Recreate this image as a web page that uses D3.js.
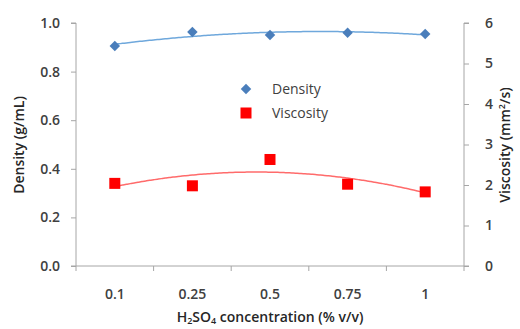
<!DOCTYPE html>
<html>
<head>
<meta charset="utf-8">
<script src="https://cdn.jsdelivr.net/npm/d3@7"></script>
<style>
  body { margin: 0; background: #fff; }
  text { font-family: "Open Sans", Lato, sans-serif; }
</style>
</head>
<body>
<svg id="chart" width="520" height="329"></svg>
<script>
const categories = ["0.1", "0.25", "0.5", "0.75", "1"];
const density = [0.905, 0.963, 0.951, 0.960, 0.955];
const viscosity = [2.04, 1.98, 2.63, 2.02, 1.83];
const densityTicks = [0, 0.2, 0.4, 0.6, 0.8, 1.0];
const viscosityTicks = [0, 1, 2, 3, 4, 5, 6];

const svg = d3.select("#chart");
const plotLeft = 76, plotRight = 464, plotTop = 23, plotBottom = 266;

const x = d3.scaleBand().domain(categories).range([plotLeft, plotRight]);
const xi = d3.scaleLinear().domain([0, categories.length - 1])
  .range([x(categories[0]) + x.bandwidth() / 2, x(categories[categories.length - 1]) + x.bandwidth() / 2]);
const yL = d3.scaleLinear().domain([0, 1]).range([plotBottom, plotTop]);
const yR = d3.scaleLinear().domain([0, 6]).range([plotBottom, plotTop]);

const axisColor = "#a6a6a6";
const labelColor = "#404040";

// left axis
const gL = svg.append("g").attr("transform", `translate(${plotLeft},0)`)
  .call(d3.axisLeft(yL).tickValues(densityTicks).tickFormat(d3.format(".1f")).tickSize(5).tickPadding(11));
// right axis
const gR = svg.append("g").attr("transform", `translate(${plotRight},0)`)
  .call(d3.axisRight(yR).tickValues(viscosityTicks).tickFormat(d3.format("d")).tickSize(5).tickPadding(16));
// x axis
const gX = svg.append("g").attr("transform", `translate(0,${plotBottom})`)
  .call(d3.axisBottom(x).tickSize(0).tickPadding(23));
gX.selectAll(".tick").append("line")
  .attr("x1", -x.bandwidth() / 2).attr("x2", -x.bandwidth() / 2)
  .attr("y1", 0).attr("y2", 5).attr("stroke", axisColor);
gX.append("line").attr("x1", plotRight).attr("x2", plotRight)
  .attr("y1", 0).attr("y2", 5).attr("stroke", axisColor);

[gL, gR, gX].forEach(g => {
  g.selectAll(".domain").attr("stroke", axisColor);
  g.selectAll(".tick line").attr("stroke", axisColor);
  g.selectAll("text").attr("fill", labelColor).style("font-size", "14px").style("font-weight", "600");
});
gL.select(".domain").attr("d", `M-5,${plotTop}H0V${plotBottom}H-5`);
gR.select(".domain").attr("d", `M5,${plotTop}H0V${plotBottom}H5`);
gX.select(".domain").attr("d", `M${plotLeft},0H${plotRight}`);

// quadratic least-squares trend
function quadFit(vals) {
  const n = vals.length;
  const m = (n - 1) / 2;
  const t = vals.map((_, i) => i - m);
  const mean = d3.mean(vals);
  const t2m = d3.mean(t.map(v => v * v));
  const b = d3.sum(t.map((v, i) => v * vals[i])) / d3.sum(t.map(v => v * v));
  const q = t.map(v => v * v - t2m);
  const c = d3.sum(q.map((v, i) => v * vals[i])) / d3.sum(q.map(v => v * v));
  return i => mean + b * (i - m) + c * ((i - m) * (i - m) - t2m);
}

function trend(vals, y, color) {
  const f = quadFit(vals);
  const pts = d3.range(0, categories.length - 1 + 0.001, 0.05);
  svg.append("path")
    .datum(pts)
    .attr("fill", "none")
    .attr("stroke", color)
    .attr("stroke-width", 1.5)
    .attr("d", d3.line().x(i => xi(i)).y(i => y(f(i))).curve(d3.curveBasis));
}

trend(density, yL, "#6fa8dc");
trend(viscosity, yR, "#ff6b6b");

const diamond = d3.symbol().type(d3.symbolDiamond2).size(70);
svg.selectAll(".dens").data(density).join("path")
  .attr("class", "dens")
  .attr("d", diamond)
  .attr("transform", (d, i) => `translate(${xi(i)},${yL(d)})`)
  .attr("fill", "#4a7ebb");

const sq = 11;
svg.selectAll(".visc").data(viscosity).join("rect")
  .attr("class", "visc")
  .attr("x", (d, i) => xi(i) - sq / 2)
  .attr("y", d => yR(d) - sq / 2)
  .attr("width", sq).attr("height", sq)
  .attr("fill", "#ff0000");

// legend
const legend = svg.append("g").attr("transform", "translate(246,89)");
legend.append("path").attr("d", diamond).attr("fill", "#4a7ebb");
legend.append("text").attr("x", 26).attr("dy", "0.35em").text("Density")
  .attr("fill", labelColor).style("font-size", "14px");
legend.append("rect").attr("x", -sq / 2).attr("y", 24 - sq / 2).attr("width", sq).attr("height", sq).attr("fill", "#ff0000");
legend.append("text").attr("x", 26).attr("y", 24).attr("dy", "0.35em").text("Viscosity")
  .attr("fill", labelColor).style("font-size", "14px");

// axis titles
svg.append("text")
  .attr("transform", `translate(24,145) rotate(-90)`)
  .attr("text-anchor", "middle")
  .attr("fill", "#262626").style("font-size", "14px").style("font-weight", "600")
  .text("Density (g/mL)");

const rt = svg.append("text")
  .attr("transform", `translate(510,145) rotate(-90)`)
  .attr("text-anchor", "middle")
  .attr("fill", "#262626").style("font-size", "14px").style("font-weight", "600");
rt.append("tspan").text("Viscosity (mm");
rt.append("tspan").attr("dy", -5).style("font-size", "9px").text("2");
rt.append("tspan").attr("dy", 5).text("/s)");

const xt = svg.append("text")
  .attr("x", 270).attr("y", 322)
  .attr("text-anchor", "middle")
  .attr("fill", "#262626").style("font-size", "14px").style("font-weight", "600");
xt.append("tspan").text("H");
xt.append("tspan").attr("dy", 2).style("font-size", "9px").text("2");
xt.append("tspan").attr("dy", -2).text("SO");
xt.append("tspan").attr("dy", 2).style("font-size", "9px").text("4");
xt.append("tspan").attr("dy", -2).text(" concentration (% v/v)");
</script>
</body>
</html>
